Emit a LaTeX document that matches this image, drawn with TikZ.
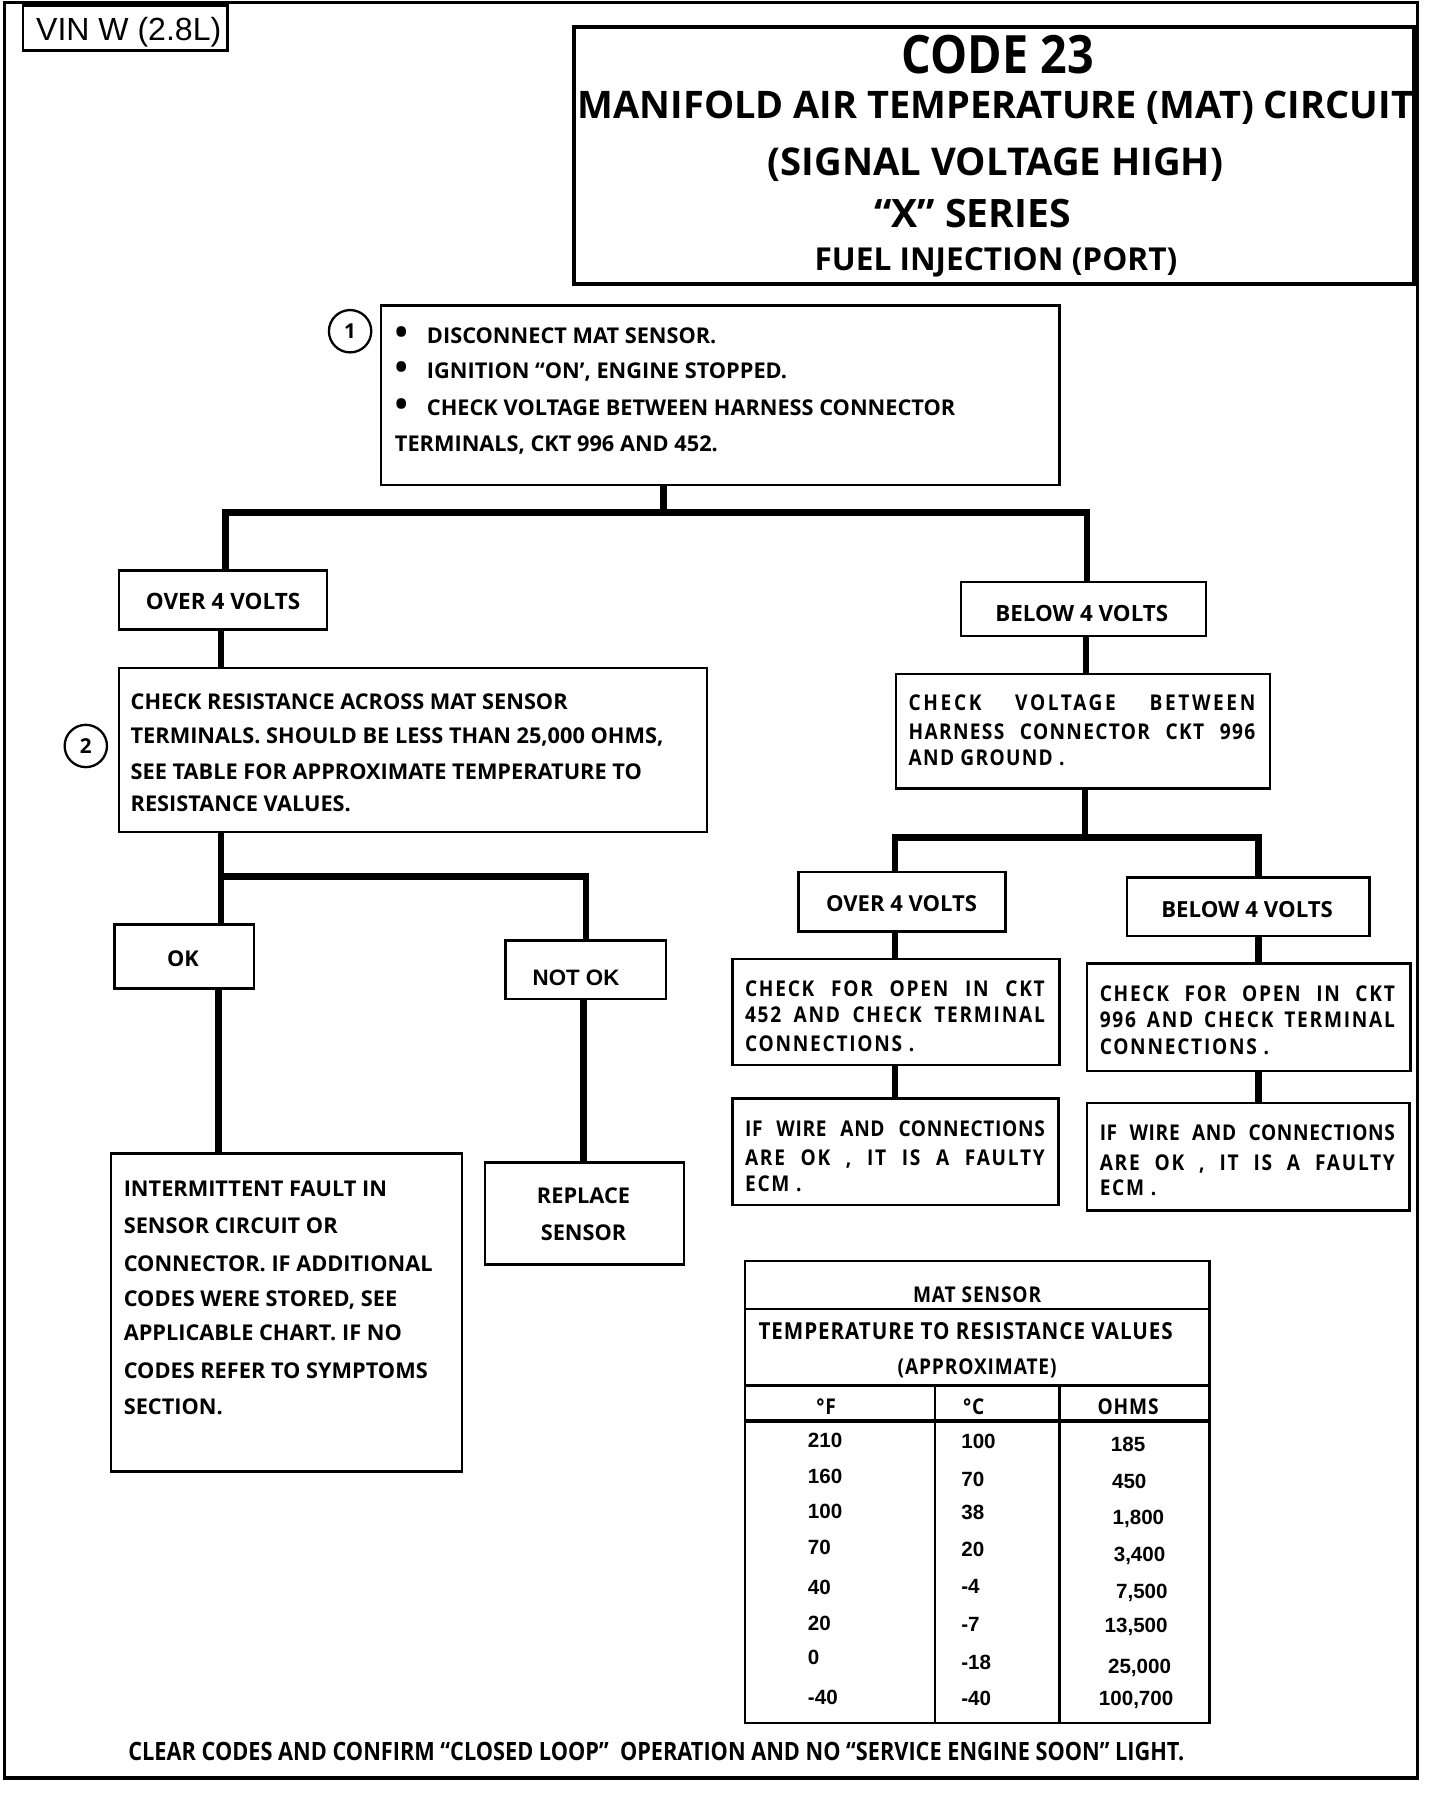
\documentclass[tikz,border=0pt]{standalone}
\usepackage{fontspec}
\usepackage{graphicx}
\setmainfont{Open Sans}
\newfontfamily\osls{Open Sans}[FakeStretch=0.88]
\newfontfamily\lib{Liberation Sans}
\newcommand\bodyf{\fontsize{19}{19}\selectfont\bfseries}
\newcommand\lsf[1]{\fontsize{19}{19}\selectfont\osls\bfseries\addfontfeature{LetterSpace=#1}}
\newcommand\numf{\fontsize{18}{18}\selectfont\lib\bfseries}
\newcommand\fitw[2]{\resizebox{#1pt}{!}{\fontsize{18}{18}\selectfont\bfseries #2}}
\newcommand\bul{\makebox[28pt][l]{\raisebox{-1pt}{\fontsize{30}{30}\selectfont •}}}
\newcommand\mybox[5]{%
  \pgfmathsetmacro\bxw{#4-#2}\pgfmathsetmacro\bxh{#5-#3}%
  \pgfmathsetmacro\bxx{(#2+#4)/2}\pgfmathsetmacro\bxy{(#3+#5)/2}%
  \node[box, minimum width=\bxw pt, minimum height=\bxh pt] (#1) at (\bxx,\bxy) {};}
\tikzset{
  box/.style={draw, line width=2.2pt, inner sep=0pt},
  conn/.style={line width=5.5pt},
  tx/.style={anchor=base west, inner sep=0pt},
  tc/.style={anchor=base, inner sep=0pt},
  num/.style={circle, draw, line width=2pt, minimum size=37pt, inner sep=0pt, font=\fontsize{18}{18}\selectfont\bfseries},
  tline/.style={line width=2.2pt},
  tthick/.style={line width=3pt}
}
\begin{document}
\begin{tikzpicture}[x=1pt,y=-1pt]
\fill[white] (0,0) rectangle (1259,1568);
\useasboundingbox (0,0) rectangle (1259,1568);
\draw[line width=3pt] (4,2) rectangle (1239,1554);

% VIN
\mybox{vin}{20}{5}{199}{44}
\node[tc, font=\fontsize{28}{28}\selectfont\lib] (vint) at (112.5,35) {VIN W (2.8L)};

% title
\node[box, line width=3.5pt, minimum width=734pt, minimum height=224pt] (title) at (869,136) {};
\node[tc] (t1) at (872,64) {\resizebox{168pt}{33.5pt}{\fontsize{47}{47}\selectfont\bfseries CODE 23}};
\node[tc] (t2) at (870,104) {\resizebox{730pt}{!}{\fontsize{34}{34}\selectfont\bfseries MANIFOLD AIR TEMPERATURE (MAT) CIRCUIT}};
\node[tc] (t3) at (870,153) {\resizebox{398pt}{!}{\fontsize{34}{34}\selectfont\bfseries (SIGNAL VOLTAGE HIGH)}};
\node[tc] (t4) at (850,199) {\resizebox{172pt}{!}{\fontsize{34}{34}\selectfont\bfseries “X” SERIES}};
\node[tc] (t5) at (870.5,236) {\resizebox{317pt}{!}{\fontsize{30}{30}\selectfont\bfseries FUEL INJECTION (PORT)}};

% step circles
\node[num] (s1) at (306,289.5) {1};
\node[num] (s2) at (75,652) {2};

% boxes
\mybox{b1}{333}{267}{926}{424}
\mybox{over1}{104}{498.5}{286}{550}
\mybox{below1}{840}{508.5}{1054}{556}
\mybox{b2}{104}{584}{618}{727}
\mybox{cv}{783}{589}{1110}{689}
\mybox{ok}{100}{808}{222}{864}
\mybox{notok}{442}{822}{582}{873}
\mybox{inter}{97}{1008}{404}{1286}
\mybox{repl}{424}{1016}{598}{1105}
\mybox{over2}{698}{762}{879}{814}
\mybox{below2}{985}{767}{1197}{818}
\mybox{co452}{640}{838}{926}{931}
\mybox{co996}{950}{842}{1233}{936}
\mybox{iw1}{640}{960}{925}{1053}
\mybox{iw2}{950}{964}{1232}{1058}

% connector coordinates
\coordinate (j1) at (580,448);
\coordinate (j1l) at (197,448);
\coordinate (j1r) at (950,448);
\coordinate (xa) at (193,0);
\coordinate (j2) at (193,766);
\coordinate (j2r) at (512,766);
\coordinate (xok) at (191,0);
\coordinate (xno) at (510,0);
\coordinate (xb) at (949,0);
\coordinate (j3) at (948,732);
\coordinate (j3l) at (782,732);
\coordinate (j3r) at (1100,732);

\draw[conn] (b1.south -| j1) -- (j1);
\draw[conn] (over1.north -| j1l) -- (j1l) -- (j1r) -- (below1.north -| j1r);
\draw[conn] (over1.south -| xa) -- (b2.north -| xa);
\draw[conn] (b2.south -| j2) -- (ok.north -| j2);
\draw[conn] (j2) -- (j2r) -- (notok.north -| j2r);
\draw[conn] (ok.south -| xok) -- (inter.north -| xok);
\draw[conn] (notok.south -| xno) -- (repl.north -| xno);
\draw[conn] (below1.south -| xb) -- (cv.north -| xb);
\draw[conn] (cv.south -| j3) -- (j3);
\draw[conn] (over2.north -| j3l) -- (j3l) -- (j3r) -- (below2.north -| j3r);
\draw[conn] (over2.south -| j3l) -- (co452.north -| j3l);
\draw[conn] (co452.south -| j3l) -- (iw1.north -| j3l);
\draw[conn] (below2.south -| j3r) -- (co996.north -| j3r);
\draw[conn] (co996.south -| j3r) -- (iw2.north -| j3r);

% box 1 text
\node[tx, font=\bodyf] (b1a) at (345,300) {\bul DISCONNECT MAT SENSOR.};
\node[tx, font=\bodyf] (b1b) at (345,331) {\bul IGNITION “ON’, ENGINE STOPPED.};
\node[tx, font=\bodyf] (b1c) at (345,363) {\bul CHECK VOLTAGE BETWEEN HARNESS CONNECTOR};
\node[tx, font=\bodyf] (b1d) at (345,395) {TERMINALS, CKT 996 AND 452.};

% over / below labels
\node[tc] (over1t) at (195,533) {\fitw{135}{OVER 4 VOLTS}};
\node[tc] (below1t) at (945.5,543) {\fitw{151}{BELOW 4 VOLTS}};
\node[tc] (over2t) at (788,797) {\fitw{132}{OVER 4 VOLTS}};
\node[tc] (below2t) at (1090,802) {\fitw{150}{BELOW 4 VOLTS}};

% box 2 text
\node[tx, font=\bodyf] (b2a) at (114,620) {CHECK RESISTANCE ACROSS MAT SENSOR};
\node[tx, font=\bodyf] (b2b) at (114,650) {TERMINALS. SHOULD BE LESS THAN 25,000 OHMS,};
\node[tx, font=\bodyf] (b2c) at (114,681) {SEE TABLE FOR APPROXIMATE TEMPERATURE TO};
\node[tx, font=\bodyf] (b2d) at (114,709) {RESISTANCE VALUES.};

% ok / not ok
\node[tc, font=\bodyf] (okt) at (160,845) {OK};
\node[tc, font=\fontsize{19.5}{19.5}\selectfont\lib\bfseries] (notokt) at (503.5,861) {NOT OK};

% intermittent
\node[tx, font=\bodyf] (i1) at (108,1046) {INTERMITTENT FAULT IN};
\node[tx, font=\bodyf] (i2) at (108,1078) {SENSOR CIRCUIT OR};
\node[tx, font=\bodyf] (i3) at (108,1111) {CONNECTOR. IF ADDITIONAL};
\node[tx, font=\bodyf] (i4) at (108,1142) {CODES WERE STORED, SEE};
\node[tx, font=\bodyf] (i5) at (108,1172) {APPLICABLE CHART. IF NO};
\node[tx, font=\bodyf] (i6) at (108,1205) {CODES REFER TO SYMPTOMS};
\node[tx, font=\bodyf] (i7) at (108,1236) {SECTION.};

% replace
\node[tc, font=\bodyf] (r1) at (510,1052) {REPLACE};
\node[tc, font=\bodyf] (r2) at (510,1084) {SENSOR};

% check voltage
\node[tx] (cv1) at (794,621) {\makebox[303pt][s]{\lsf{12}CHECK VOLTAGE BETWEEN}};
\node[tx] (cv2) at (794,646) {\makebox[303pt][s]{\lsf{6}HARNESS CONNECTOR CKT 996}};
\node[tx] (cv3) at (794,669) {\lsf{6}AND GROUND .};

% check open
\node[tx] (c41) at (651,871) {\makebox[262pt][s]{\lsf{8}CHECK FOR OPEN IN CKT}};
\node[tx] (c42) at (651,894) {\makebox[262pt][s]{\lsf{8}452 AND CHECK TERMINAL}};
\node[tx] (c43) at (651,919) {\lsf{8}CONNECTIONS .};
\node[tx] (c91) at (961,875) {\makebox[258pt][s]{\lsf{8}CHECK FOR OPEN IN CKT}};
\node[tx] (c92) at (961,898) {\makebox[258pt][s]{\lsf{8}996 AND CHECK TERMINAL}};
\node[tx] (c93) at (961,922) {\lsf{8}CONNECTIONS .};

% if wire
\node[tx] (w11) at (651,993) {\makebox[262pt][s]{\lsf{3}IF WIRE AND CONNECTIONS}};
\node[tx] (w12) at (651,1019) {\makebox[262pt][s]{\lsf{8}ARE OK , IT IS A FAULTY}};
\node[tx] (w13) at (651,1041) {\lsf{8}ECM .};
\node[tx] (w21) at (961,997) {\makebox[258pt][s]{\lsf{3}IF WIRE AND CONNECTIONS}};
\node[tx] (w22) at (961,1023) {\makebox[258pt][s]{\lsf{8}ARE OK , IT IS A FAULTY}};
\node[tx] (w23) at (961,1045) {\lsf{8}ECM .};

% table
\mybox{tbl}{651}{1102}{1057}{1506}
\draw[tline] (651,1144) -- (1057,1144);
\draw[tthick] (651,1211) -- (1057,1211);
\draw[tthick] (651,1242) -- (1057,1242);
\draw[tline] (817,1211) -- (817,1506);
\draw[tline] (926,1211) -- (926,1506);
\node[tc] (th1) at (854,1138) {\lsf{4}MAT SENSOR};
\node[tc] (th2) at (844,1171) {\resizebox{362pt}{!}{\lsf{4}TEMPERATURE TO RESISTANCE VALUES}};
\node[tc] (th3) at (854,1201) {\lsf{4}(APPROXIMATE)};
\node[tc] (hf) at (722,1236) {\lsf{4}°F};
\node[tc] (hc) at (851,1236) {\lsf{4}°C};
\node[tc] (ho) at (986,1236) {\lsf{4}OHMS};

\foreach \v/\y [count=\i] in {210/1265,160/1297,100/1327,70/1359,40/1394,20/1425,0/1455,-40/1490}
  \node[tx, font=\numf] (f\i) at (706,\y) {\v};
\foreach \v/\y [count=\i] in {100/1266,70/1299,38/1328,20/1360,-4/1393,-7/1426,-18/1459,-40/1491}
  \node[tx, font=\numf] (c\i) at (840,\y) {\v};
\foreach \v/\x/\y [count=\i] in {185/986/1269,450/987/1301,{1,800}/995/1332,{3,400}/996/1365,{7,500}/998/1397,{13,500}/993/1427,{25,000}/996/1463,{100,700}/993/1491}
  \node[tc, font=\numf] (o\i) at (\x,\y) {\v};

% bottom line
\node[tx] (foot) at (112,1539) {\resizebox{923pt}{16pt}{\fontsize{20}{20}\selectfont\bfseries CLEAR CODES AND CONFIRM “CLOSED LOOP”\ \ OPERATION AND NO “SERVICE ENGINE SOON” LIGHT.}};
\end{tikzpicture}
\end{document}
